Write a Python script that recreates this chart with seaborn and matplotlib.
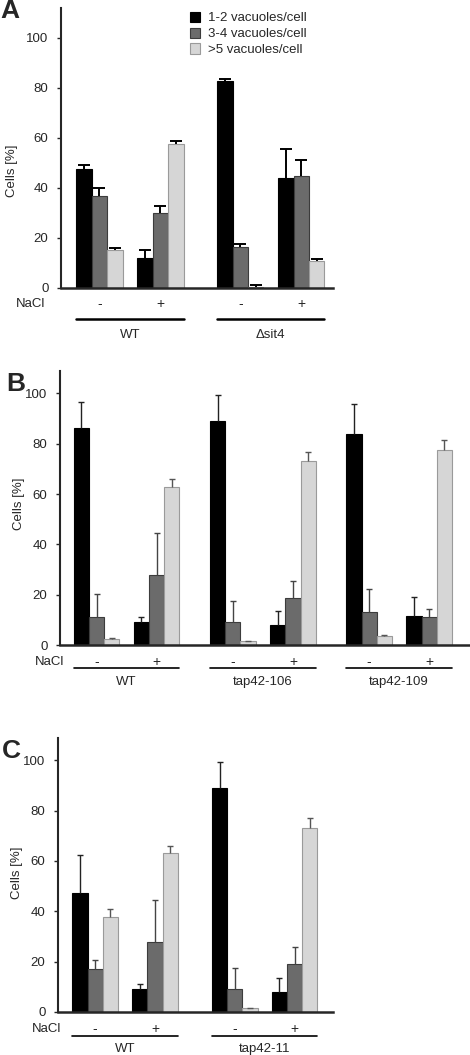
import matplotlib
matplotlib.use('Agg')
import matplotlib.pyplot as plt
import matplotlib.transforms as mtransforms
import pandas as pd
import seaborn as sns

# vacuole classes (hue) and their colours
classes = ['1-2 vacuoles/cell', '3-4 vacuoles/cell', '>5 vacuoles/cell']
nacl = ['-', '+']

# Panel A: WT and delta sit4, order per strain: NaCl -, NaCl +
strains_a = ['WT', 'Δsit4']
a_black = [47.7, 12.0, 82.9, 44.1]
a_black_err = [1.6, 3.3, 0.8, 11.4]
a_gray = [36.7, 30.0, 16.5, 44.8]
a_gray_err = [3.2, 2.8, 1.2, 6.2]
a_light = [15.3, 57.7, 0.4, 10.7]
a_light_err = [0.7, 1.0, 0.8, 1.0]

# Panel B: WT, tap42-106, tap42-109
strains_b = ['WT', 'tap42-106', 'tap42-109']
b_black = [86.2, 9.3, 89.1, 7.9, 83.8, 11.5]
b_black_err = [10.5, 1.7, 10.2, 5.5, 12.0, 7.7]
b_gray = [11.1, 27.8, 9.1, 18.8, 13.1, 11.3]
b_gray_err = [9.3, 16.6, 8.3, 6.8, 9.0, 2.9]
b_light = [2.5, 62.9, 1.6, 73.1, 3.4, 77.6]
b_light_err = [0.1, 3.2, 0.1, 3.7, 0.4, 4.0]

# Panel C: WT, tap42-11
strains_c = ['WT', 'tap42-11']
c_black = [47.4, 9.3, 89.0, 7.9]
c_black_err = [15.0, 1.8, 10.3, 5.6]
c_gray = [17.1, 27.8, 9.3, 18.9]
c_gray_err = [3.4, 16.6, 8.2, 6.8]
c_light = [37.8, 63.0, 1.6, 73.1]
c_light_err = [3.2, 3.1, 0.1, 3.8]

yticks = [0, 20, 40, 60, 80, 100]

W, H = 470, 1055
sns.set_style('ticks')
plt.rcParams['font.family'] = ['Liberation Sans', 'DejaVu Sans']

fig = plt.figure(figsize=(W / 100, H / 100), dpi=100)

bar_colors = ['#000000', '#6b6b6b', '#d6d6d6']
edge_colors = ['#000000', '#3c3c3c', '#9a9a9a']


def fy(y):
    return 1 - y / H


def build(strains, series, shift):
    rows = []
    for k, cls in enumerate(classes):
        for i, s in enumerate(strains):
            for j, n in enumerate(nacl):
                rows.append({'strain': s, 'nacl': n, 'cls': cls,
                             'pos': i * shift + j,
                             'pct': series[k][2 * i + j]})
    return pd.DataFrame(rows)


def panel(box, strains, series, errs, shift, xlim, ytop, err_style, under, ylab_at):
    left, top, right, bottom = box
    ax = fig.add_axes([left / W, fy(bottom), (right - left) / W, (bottom - top) / H])
    df = build(strains, series, shift)
    sns.barplot(data=df, x='pos', y='pct', hue='cls', hue_order=classes,
                palette=bar_colors, native_scale=True, width=0.76,
                errorbar=None, linewidth=0.8, legend=False, ax=ax)
    containers = list(ax.containers)
    for k, cont in enumerate(containers):
        bars = sorted(cont.patches, key=lambda p: p.get_x())
        for p, e in zip(bars, errs[k]):
            p.set_edgecolor(edge_colors[k])
            cx = p.get_x() + p.get_width() / 2
            eb = ax.errorbar(cx, p.get_height(), yerr=[[0], [e]], fmt='none',
                             ecolor=err_style['color'][k], elinewidth=err_style['lw'],
                             capsize=err_style['cap'], capthick=err_style['lw'], zorder=1)
            # upper bars only: hide the cap sitting on the bar top
            eb[1][0].set_visible(False)
    ax.set_xlim(*xlim)
    ax.set_ylim(0, ytop)
    ax.set_xticks([])
    ax.set_yticks(yticks)
    ax.set_xlabel('')
    ax.set_ylabel('Cells [%]', fontsize=9.5)
    ax.yaxis.set_label_coords(*ylab_at)
    ax.tick_params(axis='y', length=3, width=1, pad=6, labelsize=9.5)
    sns.despine(ax=ax)
    ax.spines['left'].set_linewidth(1.5)
    ax.spines['bottom'].set_linewidth(1.8)

    # NaCl row, strain lines and strain names below the axis
    trans = mtransforms.blended_transform_factory(ax.transData, fig.transFigure)
    nacl_x, sign_y, line_y, name_y, line_w = under
    fig.text(nacl_x / W, fy(sign_y), 'NaCl', fontsize=9.5, va='center', ha='left')
    for i, s in enumerate(strains):
        for j, n in enumerate(nacl):
            ax.text(i * shift + j, fy(sign_y), n, transform=trans,
                    ha='center', va='center', fontsize=10)
        x0, x1 = i * shift - 0.38, i * shift + 1.38
        ax.plot([x0, x1], [fy(line_y)] * 2, transform=trans, color='black',
                lw=line_w, clip_on=False)
        ax.text((x0 + x1) / 2, fy(name_y), s, transform=trans,
                ha='center', va='center', fontsize=9.5)
    return ax


ax_a = panel((61, 8, 333, 288), strains_a,
             [a_black, a_gray, a_light], [a_black_err, a_gray_err, a_light_err],
             2.31, (-0.63, 3.83), 112,
             {'color': ['black'] * 3, 'lw': 1.4, 'cap': 4.2},
             (16, 304, 319, 335, 1.8), (-0.158, 0.418))

ax_b = panel((60, 371, 470, 645), strains_b,
             [b_black, b_gray, b_light], [b_black_err, b_gray_err, b_light_err],
             2.27, (-0.61, 6.22), 108.9,
             {'color': ['#222222', '#444444', '#555555'], 'lw': 1.0, 'cap': 2.5},
             (35, 662, 668, 682, 1.2), (-0.085, 0.515))

ax_c = panel((58, 738, 333, 1012), strains_c,
             [c_black, c_gray, c_light], [c_black_err, c_gray_err, c_light_err],
             2.33, (-0.62, 3.97), 108.8,
             {'color': ['#222222', '#444444', '#555555'], 'lw': 1.0, 'cap': 2.5},
             (32, 1029, 1036, 1049, 1.2), (-0.127, 0.51))

# legend in panel A
handles = [plt.Rectangle((0, 0), 1, 1, facecolor=c, edgecolor=e, lw=0.8)
           for c, e in zip(bar_colors, edge_colors)]
ax_a.legend(handles, classes, loc='upper left', bbox_to_anchor=(0.44, 1.02),
            frameon=False, fontsize=9.5, handlelength=0.8, handleheight=0.8,
            handletextpad=0.6, labelspacing=0.25, borderpad=0.2)

# panel letters
fig.text(0 / W, fy(11), 'A', fontsize=19, fontweight='bold', va='center', ha='left')
fig.text(6 / W, fy(384), 'B', fontsize=19, fontweight='bold', va='center', ha='left')
fig.text(2 / W, fy(751), 'C', fontsize=19, fontweight='bold', va='center', ha='left')

fig.savefig('out.png', dpi=100)
